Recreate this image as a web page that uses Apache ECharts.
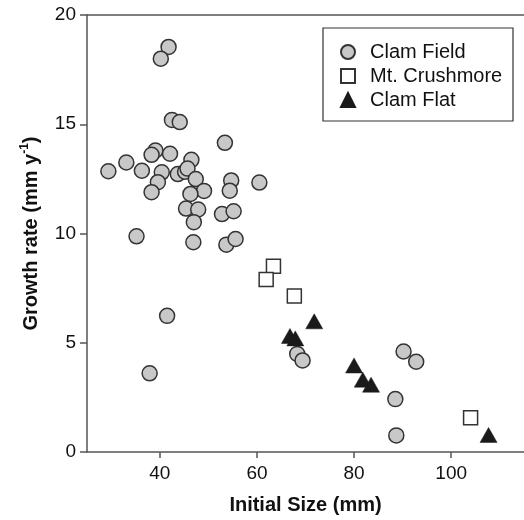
<!DOCTYPE html>
<html>
<head>
<meta charset="utf-8">
<script src="https://cdn.jsdelivr.net/npm/echarts@6/dist/echarts.min.js"></script>
<style>
  html, body { margin: 0; padding: 0; background: #fff; }
  #chart { width: 524px; height: 520px; }
</style>
</head>
<body>
<div id="chart"></div>
<script>
var xTicks = [40, 60, 80, 100];

// Clam Field (grey circles)
var clamFieldSize = [41.8, 40.2, 42.5, 44.1, 53.4, 39.1, 38.3, 42.1, 46.5, 33.1, 29.4, 36.3, 40.4, 43.7, 45.2, 45.7,
    39.6, 47.4, 54.7, 60.5, 38.3, 49.1, 46.3, 54.4, 45.4, 47.9, 52.8, 55.2, 47.0, 35.2, 46.9, 53.7, 55.6, 41.5, 37.9,
    68.3, 69.4, 90.2, 92.8, 88.5, 88.7];
var clamFieldGrowth = [18.54, 18.0, 15.2, 15.1, 14.15, 13.8, 13.6, 13.65, 13.37, 13.25, 12.85, 12.87, 12.8, 12.72, 12.83, 12.97,
    12.35, 12.49, 12.43, 12.33, 11.89, 11.95, 11.81, 11.96, 11.14, 11.1, 10.89, 11.02, 10.52, 9.87, 9.6, 9.49, 9.75, 6.23, 3.6,
    4.49, 4.19, 4.6, 4.13, 2.42, 0.76];

// Mt. Crushmore (open squares)
var crushmoreSize = [63.4, 61.9, 67.7, 104.0];
var crushmoreGrowth = [8.5, 7.9, 7.14, 1.57];

// Clam Flat (black triangles)
var clamFlatSize = [71.8, 66.8, 67.9, 80.0, 81.8, 83.5, 107.7];
var clamFlatGrowth = [5.98, 5.31, 5.2, 3.96, 3.31, 3.08, 0.78];

function pairs(xs, ys) {
    var out = [];
    for (var i = 0; i < xs.length; i++) {
        out.push([xs[i], ys[i]]);
    }
    return out;
}

var chartDom = document.getElementById('chart');
var myChart = echarts.init(chartDom);
var axisColor = '#555';
var font = 'Liberation Sans, Arial, Helvetica, sans-serif';

var option = {
    animation: false,
    backgroundColor: '#fff',
    textStyle: { fontFamily: font },
    grid: {
        left: 87,
        top: 15,
        right: 0,
        bottom: 65
    },
    legend: {
        orient: 'vertical',
        left: 340,
        top: 42,
        padding: 0,
        itemGap: 4,
        itemWidth: 14,
        itemHeight: 14,
        textStyle: {
            fontSize: 20,
            color: '#111',
            padding: [0, 0, 0, 10]
        },
        data: ['Clam Field', 'Mt. Crushmore', 'Clam Flat']
    },
    graphic: [{
        type: 'rect',
        shape: { x: 323, y: 28, width: 190, height: 93 },
        style: { fill: 'none', stroke: '#333', lineWidth: 1.2 },
        silent: true
    }],
    xAxis: [{
        type: 'value',
        min: 25,
        max: 115,
        name: 'Initial Size (mm)',
        nameLocation: 'middle',
        nameGap: 43,
        nameTextStyle: { fontSize: 20, fontWeight: 'bold', color: '#111' },
        axisLine: { show: true, onZero: false, lineStyle: { color: axisColor, width: 1.5 } },
        axisTick: { show: true, length: 6, customValues: xTicks, lineStyle: { color: axisColor, width: 1.5 } },
        axisLabel: { customValues: xTicks, fontSize: 19, color: '#111', margin: 12 },
        splitLine: { show: false }
    }, {
        type: 'value',
        position: 'top',
        min: 25,
        max: 115,
        axisLine: { show: true, onZero: false, lineStyle: { color: axisColor, width: 1.5 } },
        axisTick: { show: false },
        axisLabel: { show: false },
        splitLine: { show: false }
    }],
    yAxis: {
        type: 'value',
        min: 0,
        max: 20,
        interval: 5,
        name: '{a|Growth rate (mm y}{b|-1}{a|)}',
        nameLocation: 'middle',
        nameGap: 44,
        nameTextStyle: {
            rich: {
                a: { fontSize: 20, fontWeight: 'bold', color: '#111', lineHeight: 24, fontFamily: font },
                b: { fontSize: 12, fontWeight: 'bold', color: '#111', lineHeight: 12, verticalAlign: 'top', fontFamily: font }
            }
        },
        axisLine: { show: true, onZero: false, lineStyle: { color: axisColor, width: 1.5 } },
        axisTick: { show: true, length: 7, lineStyle: { color: axisColor, width: 1.5 } },
        axisLabel: { fontSize: 19, color: '#111', margin: 11 },
        splitLine: { show: false }
    },
    series: [{
        name: 'Clam Field',
        type: 'scatter',
        symbol: 'circle',
        symbolSize: 15,
        itemStyle: { color: '#c8c8c8', borderColor: '#333', borderWidth: 1.5, opacity: 1 },
        data: pairs(clamFieldSize, clamFieldGrowth)
    }, {
        name: 'Mt. Crushmore',
        type: 'scatter',
        symbol: 'rect',
        symbolSize: 14,
        itemStyle: { color: '#fff', borderColor: '#333', borderWidth: 1.5, opacity: 1 },
        data: pairs(crushmoreSize, crushmoreGrowth)
    }, {
        name: 'Clam Flat',
        type: 'scatter',
        symbol: 'triangle',
        symbolSize: [17, 15],
        itemStyle: { color: '#1a1a1a', borderColor: '#1a1a1a', borderWidth: 0.5, opacity: 1 },
        data: pairs(clamFlatSize, clamFlatGrowth)
    }]
};

option && myChart.setOption(option);
</script>
</body>
</html>
